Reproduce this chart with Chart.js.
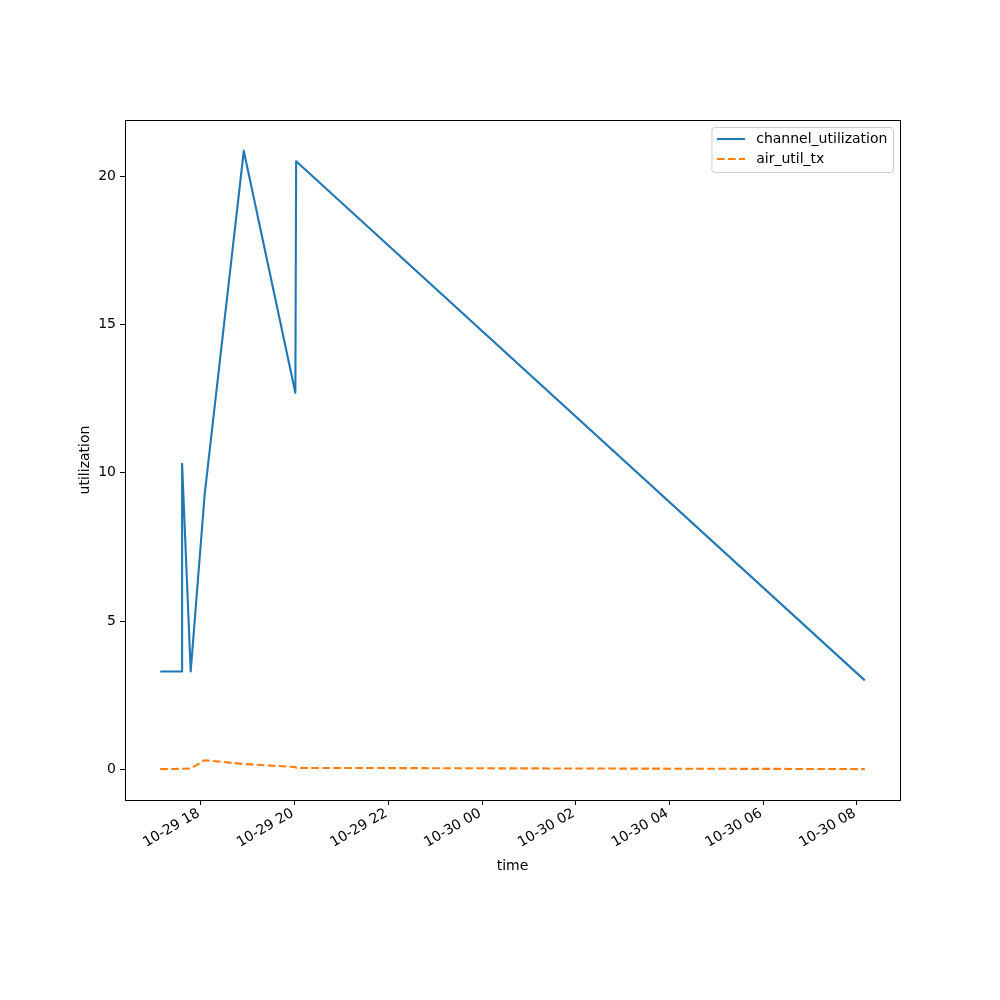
<!DOCTYPE html>
<html>
<head>
<meta charset="utf-8">
<script src="https://cdn.jsdelivr.net/npm/chart.js@4.4.0/dist/chart.umd.min.js"></script>
<style>
  html, body { margin: 0; padding: 0; background: #fff; }
  canvas { display: block; }
</style>
</head>
<body>
<canvas id="utilChart" width="1000" height="1000"></canvas>
<script>
// sample times (month-day hour:minute)
const times = ['10-29 17:08', '10-29 17:36', '10-29 17:36', '10-29 17:36', '10-29 17:36',
               '10-29 17:47', '10-29 18:05', '10-29 18:55', '10-29 20:01', '10-29 20:02', '10-30 08:10'];
const channelUtilization = [3.3, 3.3, 6.9, 5.5, 10.3, 3.3, 9.3, 20.85, 12.7, 20.5, 3.0];
const airUtilTx = [0.01, 0.02, 0.02, 0.02, 0.02, 0.03, 0.31, 0.18, 0.08, 0.05, 0.01];

const xTickTimes = ['10-29 18:00', '10-29 20:00', '10-29 22:00', '10-30 00:00',
                    '10-30 02:00', '10-30 04:00', '10-30 06:00', '10-30 08:00'];
const yTickValues = [0, 5, 10, 15, 20];

// hours since 10-29 00:00
function toHours(s) {
    const day = parseInt(s.slice(3, 5), 10);
    const hh = parseInt(s.slice(6, 8), 10);
    const mm = parseInt(s.slice(9, 11), 10);
    return (day - 29) * 24 + hh + mm / 60;
}
function hourLabel(h) {
    const day = 29 + Math.floor(h / 24);
    const hr = Math.round(h - Math.floor(h / 24) * 24);
    return '10-' + day + ' ' + String(hr).padStart(2, '0');
}

const xs = times.map(toHours);
const allY = channelUtilization.concat(airUtilTx);
// matplotlib-like 5% margins
const xMin = Math.min(...xs), xMax = Math.max(...xs);
const yMin = Math.min(...allY), yMax = Math.max(...allY);
const xPad = (xMax - xMin) * 0.05, yPad = (yMax - yMin) * 0.05;

Chart.defaults.font.family = '"DejaVu Sans", sans-serif';
Chart.defaults.font.size = 14;
Chart.defaults.color = '#000';

// box around the plot + matplotlib style legend
const framePlugin = {
    id: 'frame',
    afterDraw(chart) {
        const {ctx, chartArea: a} = chart;
        ctx.save();
        ctx.strokeStyle = '#000';
        ctx.lineWidth = 1;
        ctx.strokeRect(Math.round(a.left) + 0.5, Math.round(a.top) + 0.5,
                       Math.round(a.right - a.left), Math.round(a.bottom - a.top));

        ctx.font = '14px "DejaVu Sans", sans-serif';
        const sets = chart.data.datasets;
        const textW = Math.max(...sets.map(d => ctx.measureText(d.label).width));
        const pad = 5.6, handle = 28, gap = 11.2, rowH = 20;
        const w = pad + handle + gap + textW + pad;
        const h = rowH * sets.length + 5;
        const x = a.right - 7 - w, y = a.top + 7;
        ctx.fillStyle = 'rgba(255,255,255,0.8)';
        ctx.strokeStyle = '#cccccc';
        ctx.lineWidth = 1;
        ctx.beginPath();
        ctx.roundRect(x + 0.5, y + 0.5, w, h, 3);
        ctx.fill();
        ctx.stroke();
        sets.forEach((d, i) => {
            const cy = y + 12 + i * rowH;
            ctx.strokeStyle = d.borderColor;
            ctx.lineWidth = d.borderWidth;
            ctx.setLineDash(d.borderDash || []);
            ctx.beginPath();
            ctx.moveTo(x + pad, cy);
            ctx.lineTo(x + pad + handle, cy);
            ctx.stroke();
            ctx.setLineDash([]);
            ctx.fillStyle = '#000';
            ctx.textBaseline = 'middle';
            ctx.textAlign = 'left';
            ctx.fillText(d.label, x + pad + handle + gap, cy);
        });
        ctx.restore();
    }
};

new Chart(document.getElementById('utilChart'), {
    type: 'line',
    data: {
        datasets: [{
            label: 'channel_utilization',
            data: xs.map((x, i) => ({x: x, y: channelUtilization[i]})),
            borderColor: '#1f77b4',
            borderWidth: 2.1,
            borderJoinStyle: 'round',
            pointRadius: 0,
            tension: 0,
            fill: false
        }, {
            label: 'air_util_tx',
            data: xs.map((x, i) => ({x: x, y: airUtilTx[i]})),
            borderColor: '#ff7f0e',
            borderWidth: 2.1,
            borderDash: [7.7, 3.3],
            borderJoinStyle: 'round',
            pointRadius: 0,
            tension: 0,
            fill: false
        }]
    },
    options: {
        responsive: false,
        animation: false,
        devicePixelRatio: 1,
        layout: { padding: { top: 120, right: 100, left: 0, bottom: 0 } },
        plugins: {
            legend: { display: false },
            tooltip: { enabled: false }
        },
        scales: {
            x: {
                type: 'linear',
                min: xMin - xPad,
                max: xMax + xPad,
                afterFit: s => { s.height = 200; },
                afterBuildTicks: s => { s.ticks = xTickTimes.map(t => ({value: toHours(t)})); },
                ticks: {
                    autoSkip: false,
                    minRotation: 30,
                    maxRotation: 30,
                    padding: 0,
                    labelOffset: -2,
                    color: '#000',
                    callback: v => hourLabel(v)
                },
                grid: { drawOnChartArea: false, tickLength: 5, tickColor: '#000' },
                border: { display: false },
                title: { display: true, text: 'time', color: '#000', padding: { top: 4, bottom: 125 } }
            },
            y: {
                min: yMin - yPad,
                max: yMax + yPad,
                afterFit: s => { s.width = 125; },
                afterBuildTicks: s => { s.ticks = yTickValues.map(v => ({value: v})); },
                ticks: { padding: 4, color: '#000' },
                grid: { drawOnChartArea: false, tickLength: 5, tickColor: '#000' },
                border: { display: false },
                title: { display: true, text: 'utilization', color: '#000', padding: { top: 77, bottom: 4 } }
            }
        }
    },
    plugins: [framePlugin]
});
</script>
</body>
</html>
